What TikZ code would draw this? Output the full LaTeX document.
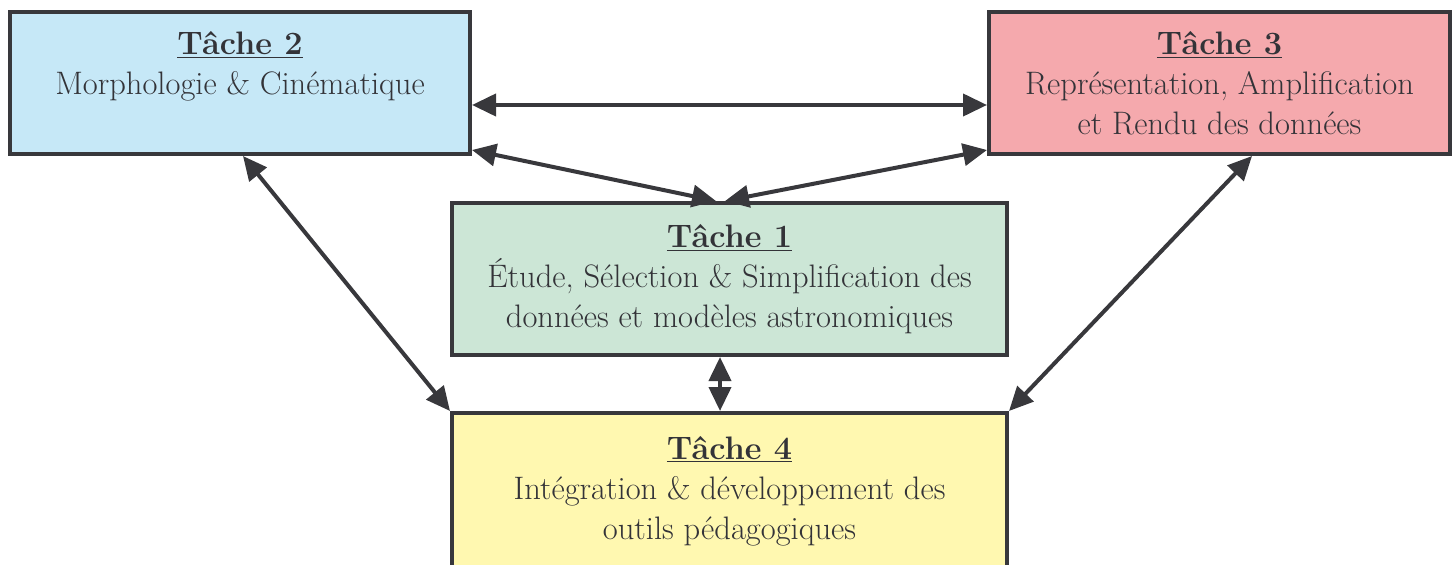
\documentclass[tikz,border=0pt]{standalone}
\usepackage{fontspec}
\usetikzlibrary{arrows.meta}

\definecolor{bordgris}{HTML}{38383C}
\definecolor{textgris}{HTML}{333338}
\definecolor{bleu}{HTML}{C6E8F7}
\definecolor{rose}{HTML}{F5A9AD}
\definecolor{vert}{HTML}{CCE6D6}
\definecolor{jaune}{HTML}{FFF8B0}

\tikzset{
  tache/.style={rectangle, draw=bordgris, line width=0.08cm, align=center,
    text=textgris, inner sep=0pt,
    font=\fontsize{18.5}{22.8}\selectfont},
  fleche/.style={<->, >={Triangle[length=0.48cm,width=0.44cm]},
    line width=0.08cm, draw=bordgris},
}

\begin{document}
\begin{tikzpicture}
  \useasboundingbox (0,0) rectangle (29.1,11.28);

    \node [tache, fill=bleu, minimum width=9.2cm, minimum height=2.84cm] (t2) at (4.8,9.62)
      {\underline{\textbf{Tâche 2}}\\ Morphologie \& Cinématique\\ \mbox{}};
    \node [tache, fill=rose, minimum width=9.22cm, minimum height=2.84cm] (t3) at (24.39,9.62)
      {\underline{\textbf{Tâche 3}}\\ Représentation, Amplification\\ et Rendu des données};
    \node [tache, fill=vert, minimum width=11.1cm, minimum height=3.04cm] (t1) at (14.59,5.70)
      {\underline{\textbf{Tâche 1}}\\ Étude, Sélection \& Simplification des\\ données et modèles astronomiques};
    \node [tache, fill=jaune, minimum width=11.1cm, minimum height=3.12cm] (t4) at (14.59,1.46)
      {\underline{\textbf{Tâche 4}}\\ Intégration \& développement des\\ outils pédagogiques};

  \draw[fleche] ([yshift=-0.44cm]t2.east) -- ([yshift=-0.44cm]t3.west);
  \draw[fleche] ([yshift=0.12cm]t2.south east) -- ([xshift=-0.27cm]t1.north);
  \draw[fleche] ([yshift=0.12cm]t3.south west) -- ([xshift=-0.09cm]t1.north);
  \draw[fleche] ([xshift=0.06cm]t2.south) -- (t4.north west);
  \draw[fleche] ([xshift=0.65cm]t3.south) -- (t4.north east);
  \draw[fleche] ([xshift=-0.19cm]t1.south) -- ([xshift=-0.19cm]t4.north);
\end{tikzpicture}
\end{document}
